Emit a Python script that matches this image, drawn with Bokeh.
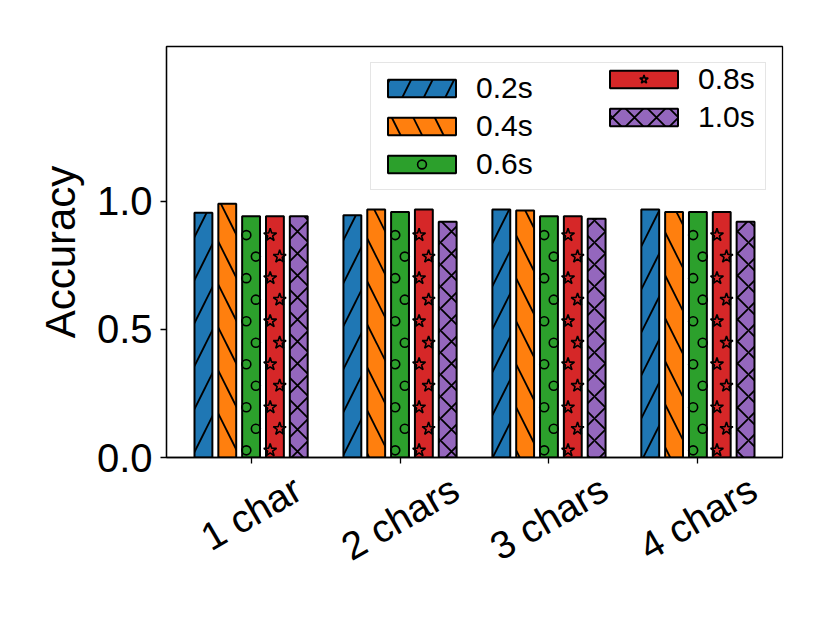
import math
from bokeh.plotting import figure
from bokeh.layouts import column
from bokeh.models import (ColumnDataSource, Range1d, FixedTicker, Legend, LegendItem,
                          NumeralTickFormatter)
from bokeh.core.properties import value
from bokeh.embed import file_html
from bokeh.resources import INLINE

# ---------------- data ----------------
categories = ["1 char", "2 chars", "3 chars", "4 chars"]
series = ["0.2s", "0.4s", "0.6s", "0.8s", "1.0s"]
acc_02 = [0.955, 0.945, 0.968, 0.968]
acc_04 = [0.990, 0.968, 0.964, 0.958]
acc_06 = [0.942, 0.958, 0.942, 0.958]
acc_08 = [0.942, 0.968, 0.942, 0.958]
acc_10 = [0.942, 0.920, 0.932, 0.920]
y_ticks = [0.0, 0.5, 1.0]

values = [acc_02, acc_04, acc_06, acc_08, acc_10]
colors = ["#1f77b4", "#ff7f0e", "#2ca02c", "#d62728", "#9467bd"]
FONT = "Liberation Sans"

line_hatch = {
    0: dict(hatch_pattern="/", hatch_scale=43, hatch_weight=1.8, hatch_color="black"),
    1: dict(hatch_pattern="\\", hatch_scale=43, hatch_weight=1.8, hatch_color="black"),
    4: dict(hatch_pattern="x", hatch_scale=22, hatch_weight=1.8, hatch_color="black"),
}
marker_fill = {2: dict(marker="circle", size=9), 3: dict(marker="star", size=13.5)}

W = 820
MAIN_H = 481
OVERLAP = 14
STRIP_H = 146
LABEL_PX = 39

# ---------------- main figure ----------------
p = figure(width=W, height=MAIN_H, output_backend="svg", toolbar_location=None,
           x_range=Range1d(-0.568, 3.568), y_range=Range1d(0, 1.604),
           min_border_left=166, min_border_right=38, min_border_top=46,
           min_border_bottom=24)
p.background_fill_color = "white"
p.border_fill_color = "white"
p.outline_line_color = "black"
p.outline_line_width = 1.3
p.xgrid.visible = False
p.ygrid.visible = False

n = len(series)
offset = 0.16
bw = 0.12
lat_dx = 0.032
lat_dy = 0.084
item_renderers = []
for i, (name, vals) in enumerate(zip(series, values)):
    xs = [j + (i - (n - 1) / 2) * offset for j in range(len(categories))]
    src = ColumnDataSource(dict(x=xs, top=vals))
    r = p.vbar(x="x", top="top", width=bw, bottom=0, source=src,
               fill_color=colors[i], line_color="black", line_width=2,
               **line_hatch.get(i, {}))
    rs = [r]
    if i in marker_fill:
        mx, my = [], []
        for xc, top in zip(xs, vals):
            k = 0
            while 0.028 + k * lat_dy + 0.02 < top:
                mx.append(xc + (-lat_dx if k % 2 == 0 else lat_dx))
                my.append(0.028 + k * lat_dy)
                k += 1
        m = p.scatter(x=mx, y=my, fill_color=None, line_color="black",
                      line_width=1.6, **marker_fill[i])
        rs.append(m)
    item_renderers.append(rs)

for ax in (p.xaxis[0], p.yaxis[0]):
    ax.axis_line_color = "black"
    ax.axis_line_width = 1.3
    ax.major_tick_line_color = "black"
    ax.major_tick_line_width = 1.3
    ax.major_tick_out = 6
    ax.major_tick_in = 0
    ax.minor_tick_line_color = None

p.xaxis.ticker = FixedTicker(ticks=list(range(len(categories))))
p.xaxis.major_label_overrides = {j: "" for j in range(len(categories))}
p.xaxis.major_label_text_font_size = "1px"
p.xaxis.major_label_standoff = 0

p.yaxis.ticker = FixedTicker(ticks=y_ticks)
p.yaxis.formatter = NumeralTickFormatter(format="0.0")
p.yaxis.major_label_text_font = FONT
p.yaxis.major_label_text_font_size = "40px"
p.yaxis.major_label_text_color = "black"
p.yaxis.major_label_standoff = 8
p.yaxis.axis_label = "Accuracy"
p.yaxis.axis_label_text_font = FONT
p.yaxis.axis_label_text_font_size = "42px"
p.yaxis.axis_label_text_font_style = "normal"
p.yaxis.axis_label_text_color = "black"
p.yaxis.axis_label_standoff = 10

common = dict(glyph_width=85, glyph_height=22, label_standoff=12, padding=8,
              spacing=4, margin=16, label_text_font=FONT, label_text_color="black",
              label_text_font_size="30px", location="top_right")
leg_a = Legend(items=[LegendItem(label=series[k], renderers=item_renderers[k]) for k in range(3)],
               label_width=281, border_line_color="#cccccc", border_line_width=1.2,
               background_fill_color="white", background_fill_alpha=1.0, **common)
leg_b = Legend(items=[LegendItem(label=series[k], renderers=item_renderers[k]) for k in range(3, 5)],
               label_width=68, border_line_color=None, background_fill_alpha=0.0, **common)
p.add_layout(leg_a)
p.add_layout(leg_b)

# ---------------- strip with rotated, centred category labels ----------------
# approximate advance widths (em) of Liberation Sans, used to top-align the
# rotated label boxes just below the tick marks (as matplotlib does)
ADV = {" ": 0.278, "c": 0.5, "h": 0.556, "a": 0.556, "r": 0.333, "s": 0.5}
def text_width(t):
    return sum(ADV.get(ch, 0.556) for ch in t) * LABEL_PX

ang = math.pi / 6
label_y = [STRIP_H - (2 + (text_width(t) * math.sin(ang) + 0.97 * LABEL_PX * math.cos(ang)) / 2)
           for t in categories]

p2 = figure(width=W, height=STRIP_H, output_backend="svg", toolbar_location=None,
            x_range=p.x_range, y_range=Range1d(0, STRIP_H),
            x_axis_location=None, y_axis_location=None,
            min_border_left=166, min_border_right=38, min_border_top=0,
            min_border_bottom=0, margin=(-OVERLAP, 0, 0, 0))
p2.outline_line_color = None
p2.xgrid.visible = False
p2.ygrid.visible = False
p2.background_fill_alpha = 0.0
p2.border_fill_alpha = 0.0
lab_src = ColumnDataSource(dict(x=list(range(len(categories))), y=label_y,
                                text=categories))
p2.text(x="x", y="y", text="text", source=lab_src, angle=ang,
        text_align="center", text_baseline="middle", text_font=value(FONT),
        text_font_size=f"{LABEL_PX}px", text_color="black")

layout = column(p, p2, spacing=0)
open("out.html", "w").write(file_html(layout, INLINE))
